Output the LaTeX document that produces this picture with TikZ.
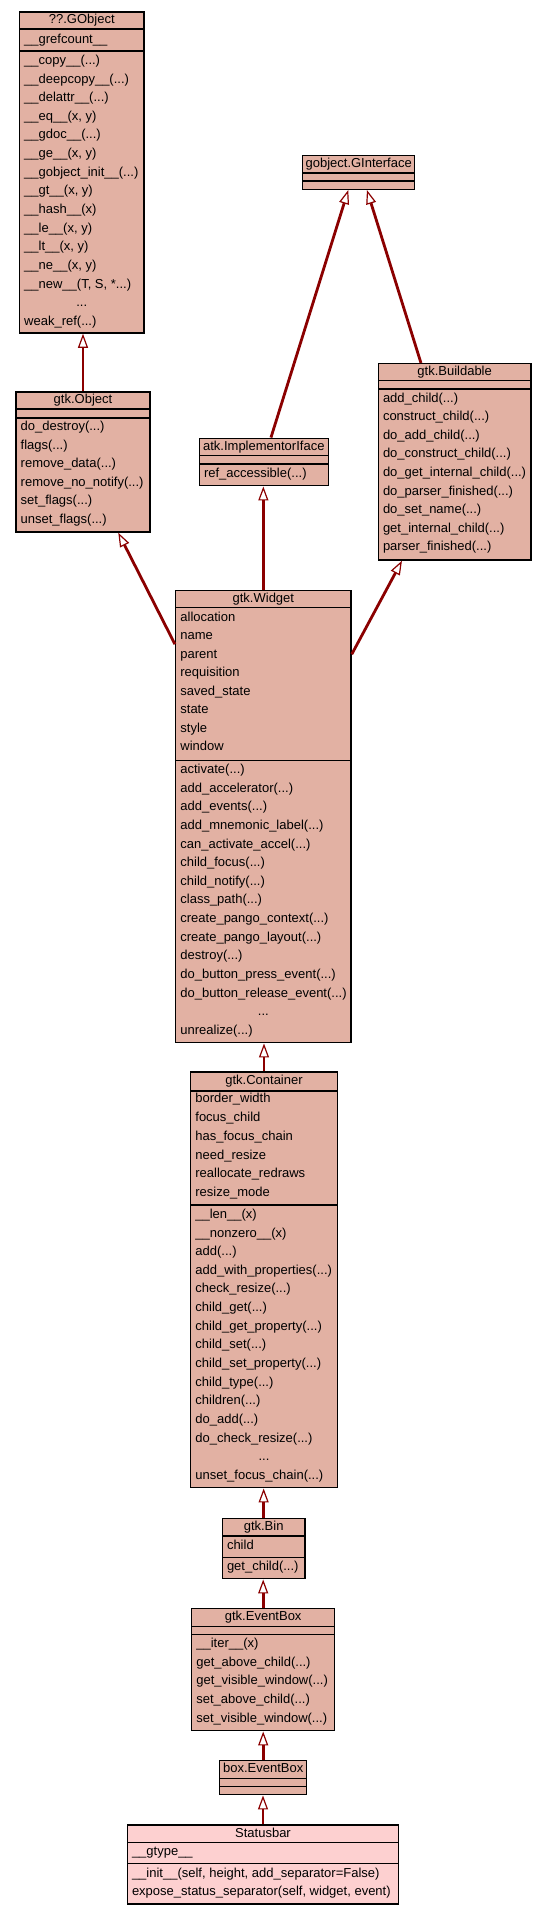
\documentclass[tikz,border=0pt]{standalone}
\usepackage{fontspec}
\setmainfont{Liberation Sans}
\usetikzlibrary{arrows.meta,calc,fit}
\definecolor{cfill}{RGB}{226,177,163}
\definecolor{sfill}{RGB}{253,208,208}
\definecolor{lred}{RGB}{139,0,0}
\newcommand\mydots{...}
\tikzset{
  classbox/.style={draw=black, line width=1.5pt, inner sep=0pt, fill=cfill},
  mainbox/.style={classbox, fill=sfill},
  sepline/.style={draw=black, line width=1.5pt},
  rowtxt/.style={anchor=west, inner sep=0pt, text height=9.4pt, text depth=2.6pt, font=\fontsize{13pt}{15pt}\selectfont},
  ctrtxt/.style={rowtxt, anchor=center},
  inh/.style={draw=lred, line width=2.8pt, -{Triangle[length=14pt,width=10pt,fill=white,line width=1.2pt]}}
}
% #1 name, #2 left, #3 top, #4 right, #5 bottom, #6 sep1, #7 sep2, #8 style, #9 title
\newcommand\umlbox[9]{%
  \node[#8, fit={(#2,#3) (#4,#5)}] (#1) {};
  \draw[sepline] (#2,#6) -- (#4,#6);
  \draw[sepline] (#2,#7) -- (#4,#7);
  \node[ctrtxt] (#1-title) at ({(#2+#4)/2},{(#3+#6)/2}) {#9};
}
% #1 name prefix, #2 x, #3 first y, #4 spacing, #5 list
\newcommand\rowlist[5]{%
  \foreach \t [count=\i from 0] in {#5} {\node[rowtxt] (#1-\i) at (#2,{#3+\i*#4}) {\t};}
}
\begin{document}
\begin{tikzpicture}[x=1pt,y=-1pt]
\fill[white] (0,0) rectangle (547,1915);
\useasboundingbox (0,0) rectangle (547,1915);

% ??.GObject
\umlbox{gobj}{19.5}{12}{144}{333}{29}{51}{classbox}{??.GObject}
\node[rowtxt] (gobj-a) at (24,40) {\_\_grefcount\_\_};
\rowlist{gobj-m}{24}{61}{18.64}{\_\_copy\_\_(\mydots),\_\_deepcopy\_\_(\mydots),\_\_delattr\_\_(\mydots),{\_\_eq\_\_(x, y)},\_\_gdoc\_\_(\mydots),{\_\_ge\_\_(x, y)},\_\_gobject\_init\_\_(\mydots),{\_\_gt\_\_(x, y)},\_\_hash\_\_(x),{\_\_le\_\_(x, y)},{\_\_lt\_\_(x, y)},{\_\_ne\_\_(x, y)},{\_\_new\_\_(T, S, *\mydots)}}
\node[ctrtxt] (gobj-dots) at (81.75,{61+13*18.64}) {\mydots};
\node[rowtxt] (gobj-last) at (24,{61+14*18.64}) {weak\_ref(\mydots)};

% gtk.Object
\umlbox{obj}{16}{392}{150}{532}{409}{418}{classbox}{gtk.Object}
\rowlist{obj-m}{20.5}{427}{18.6}{do\_destroy(\mydots),flags(\mydots),remove\_data(\mydots),remove\_no\_notify(\mydots),set\_flags(\mydots),unset\_flags(\mydots)}

% gobject.GInterface
\umlbox{gint}{302.7}{155.7}{414.7}{189.3}{173}{181}{classbox}{gobject.GInterface}

% atk.ImplementorIface
\umlbox{atk}{199.3}{438.3}{328.3}{485.7}{455.7}{464}{classbox}{atk.ImplementorIface}
\node[rowtxt] (atk-m) at (203.8,474.5) {ref\_accessible(\mydots)};

% gtk.Buildable
\umlbox{build}{378.3}{363.7}{531}{560}{380.7}{389}{classbox}{gtk.Buildable}
\rowlist{build-m}{382.8}{398.7}{18.6}{add\_child(\mydots),construct\_child(\mydots),do\_add\_child(\mydots),do\_construct\_child(\mydots),do\_get\_internal\_child(\mydots),do\_parser\_finished(\mydots),do\_set\_name(\mydots),get\_internal\_child(\mydots),parser\_finished(\mydots)}

% gtk.Widget
\umlbox{wid}{175.7}{590.3}{351}{1042.7}{607.7}{760.3}{classbox}{gtk.Widget}
\rowlist{wid-a}{180.2}{617.7}{18.5}{allocation,name,parent,requisition,saved\_state,state,style,window}
\rowlist{wid-m}{180.2}{770}{18.65}{activate(\mydots),add\_accelerator(\mydots),add\_events(\mydots),add\_mnemonic\_label(\mydots),can\_activate\_accel(\mydots),child\_focus(\mydots),child\_notify(\mydots),class\_path(\mydots),create\_pango\_context(\mydots),create\_pango\_layout(\mydots),destroy(\mydots),do\_button\_press\_event(\mydots),do\_button\_release\_event(\mydots)}
\node[ctrtxt] (wid-dots) at (263.35,{770+13*18.65}) {\mydots};
\node[rowtxt] (wid-last) at (180.2,{770+14*18.65}) {unrealize(\mydots)};

% gtk.Container
\umlbox{cont}{190.7}{1072}{337.3}{1487.7}{1091}{1205}{classbox}{gtk.Container}
\rowlist{cont-a}{195.2}{1099.3}{18.8}{border\_width,focus\_child,has\_focus\_chain,need\_resize,reallocate\_redraws,resize\_mode}
\rowlist{cont-m}{195.2}{1215}{18.64}{\_\_len\_\_(x),\_\_nonzero\_\_(x),add(\mydots),add\_with\_properties(\mydots),check\_resize(\mydots),child\_get(\mydots),child\_get\_property(\mydots),child\_set(\mydots),child\_set\_property(\mydots),child\_type(\mydots),children(\mydots),do\_add(\mydots),do\_check\_resize(\mydots)}
\node[ctrtxt] (cont-dots) at (264,{1215+13*18.64}) {\mydots};
\node[rowtxt] (cont-last) at (195.2,{1215+14*18.64}) {unset\_focus\_chain(\mydots)};

% gtk.Bin
\umlbox{bin}{222.3}{1518.7}{305}{1578.7}{1536}{1557.3}{classbox}{gtk.Bin}
\node[rowtxt] (bin-a) at (226.8,1546) {child};
\node[rowtxt] (bin-m) at (226.8,1567.5) {get\_child(\mydots)};

% gtk.EventBox
\umlbox{gev}{191.7}{1608.7}{334.7}{1730.7}{1626.3}{1634.7}{classbox}{gtk.EventBox}
\rowlist{gev-m}{196.2}{1644}{18.75}{\_\_iter\_\_(x),get\_above\_child(\mydots),get\_visible\_window(\mydots),set\_above\_child(\mydots),set\_visible\_window(\mydots)}

% box.EventBox
\umlbox{bev}{219.7}{1760.7}{306.7}{1794.7}{1778.3}{1786.7}{classbox}{box.EventBox}

% Statusbar
\umlbox{sb}{127.3}{1825}{398.7}{1904}{1842.3}{1863.3}{mainbox}{Statusbar}
\node[rowtxt] (sb-a) at (131.8,1852.5) {\_\_gtype\_\_};
\node[rowtxt] (sb-m0) at (131.8,1873.7) {\_\_init\_\_(self, height, add\_separator=False)};
\node[rowtxt] (sb-m1) at (131.8,1891.7) {expose\_status\_separator(self, widget, event)};

% inheritance connectors
\draw[inh] (obj.north) -- (obj.north |- gobj.south);
\draw[inh] ($(wid.north west)+(0,54.7)$) -- ($(obj.south)+(35.3,0)$);
\draw[inh] (wid.north) -- (wid.north |- atk.south);
\draw[inh] ($(wid.north east)+(0,64.7)$) -- ($(build.south west)+(24.4,0)$);
\draw[inh] ($(atk.north west)+(72.4,0)$) -- ($(gint.south west)+(46.3,0)$);
\draw[inh] ($(build.north west)+(43.4,0)$) -- ($(gint.south west)+(65,0)$);
\draw[inh] (cont.north) -- (cont.north |- wid.south);
\draw[inh] (bin.north) -- (bin.north |- cont.south);
\draw[inh] (gev.north) -- (gev.north |- bin.south);
\draw[inh] (bev.north) -- (bev.north |- gev.south);
\draw[inh] (sb.north) -- (sb.north |- bev.south);
\end{tikzpicture}
\end{document}
